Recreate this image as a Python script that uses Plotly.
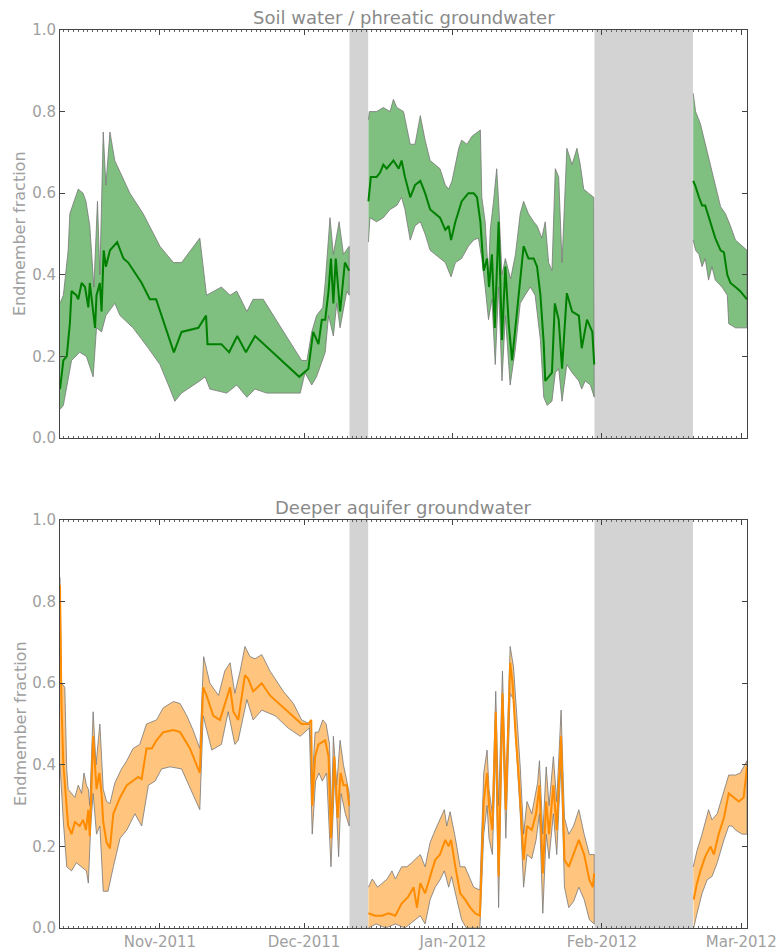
import numpy as np
import pandas as pd
import plotly.graph_objects as go

# ---------------- data (days since BASE_DATE) ----------------
BASE_DATE = "2011-11-01"
X_START, X_END = -20.8, 122.2
NO_DATA = [(39.45, 43.35), (90.45, 110.95)]   # periods without data (grey bands)

panel_titles = ["Soil water / phreatic groundwater", "Deeper aquifer groundwater"]
y_label = "Endmember fraction"

# --- Soil water / phreatic groundwater ---
soil_mean_day = [-20.8, -20.1, -19.4, -18.75, -18.4, -17.4, -17.0, -16.3, -15.6, -14.9,
                 -14.6, -13.5, -13.2, -12.5, -12.15, -11.7, -11.25, -10.4, -8.9, -7.6,
                 -6.6, -3.8, -2.1, -0.8, 2.9, 4.5, 8.0, 9.6, 9.9, 12.8,
                 14.4, 16.1, 17.9, 19.8, 29.0, 30.9, 31.9, 33.0, 33.7, 34.4,
                 35.1, 35.6, 36.1, 36.6, 37.5, 38.5, 39.4,
                 43.4, 43.9, 45.1, 45.8, 46.5, 47.2, 48.6, 49.7, 50.3, 51.0,
                 52.1, 53.1, 54.2, 55.2, 56.25, 57.3, 58.3, 59.4, 60.1, 60.6,
                 61.5, 62.8, 64.2, 65.3, 66.0, 66.7, 67.4, 68.1, 68.5, 69.1,
                 69.7, 70.5, 71.2, 71.9, 72.6, 73.3, 74.3, 75.7, 76.7, 77.8,
                 78.5, 79.2, 79.9, 80.2, 80.9, 81.6, 82.2, 83.0, 83.7, 84.7,
                 85.8, 87.2, 87.8, 88.9, 90.0, 90.4,
                 111.0, 111.5, 112.2, 112.85, 113.5, 114.6, 115.6, 116.7, 117.4, 118.1,
                 118.75, 119.8, 120.8, 122.2]
soil_mean_val = [0.12, 0.19, 0.20, 0.28, 0.36, 0.35, 0.34, 0.38, 0.37, 0.32,
                 0.38, 0.27, 0.35, 0.38, 0.31, 0.46, 0.42, 0.46, 0.48, 0.44,
                 0.43, 0.38, 0.34, 0.34, 0.21, 0.26, 0.27, 0.30, 0.23, 0.23,
                 0.21, 0.25, 0.21, 0.25, 0.15, 0.17, 0.26, 0.23, 0.29, 0.29,
                 0.36, 0.44, 0.33, 0.44, 0.31, 0.43, 0.41,
                 0.58, 0.64, 0.64, 0.65, 0.67, 0.66, 0.68, 0.66, 0.68, 0.64,
                 0.59, 0.62, 0.63, 0.60, 0.56, 0.55, 0.54, 0.51, 0.52, 0.485,
                 0.53, 0.58, 0.60, 0.60, 0.59, 0.53, 0.41, 0.44, 0.37, 0.45,
                 0.27, 0.53, 0.24, 0.42, 0.28, 0.19, 0.31, 0.47, 0.44, 0.44,
                 0.42, 0.35, 0.23, 0.14, 0.15, 0.16, 0.33, 0.29, 0.17, 0.355,
                 0.31, 0.30, 0.22, 0.29, 0.26, 0.18,
                 0.63, 0.616, 0.59, 0.57, 0.57, 0.53, 0.49, 0.46, 0.455, 0.40,
                 0.38, 0.37, 0.36, 0.34]
soil_hi_day = [-20.8, -20.1, -19.1, -18.75, -17.0, -16.0, -15.4, -14.6, -13.75, -13.0,
               -12.5, -11.8, -11.25, -10.4, -9.4, -6.25, -3.5, -1.4, 0.0, 2.8,
               4.5, 8.3, 9.7, 12.8, 14.6, 16.0, 18.1, 19.4, 21.5, 29.5,
               30.6, 31.6, 32.6, 33.9, 34.4, 35.4, 36.1, 37.3, 38.2, 39.4,
               43.4, 43.6, 45.1, 46.5, 47.9, 48.6, 49.3, 50.7, 52.1, 53.1,
               54.2, 55.2, 56.25, 57.3, 58.3, 59.4, 60.1, 60.8, 62.2, 62.8,
               63.9, 65.0, 66.0, 66.7, 67.0, 67.7, 68.4, 68.75, 69.4, 70.1,
               70.5, 71.2, 71.9, 73.0, 74.0, 75.0, 75.7, 76.7, 77.8, 78.5,
               79.5, 80.2, 80.9, 81.6, 82.3, 83.0, 83.7, 84.7, 85.8, 86.8,
               87.5, 88.2, 89.2, 90.3,
               111.0, 111.5, 112.5, 113.5, 114.6, 115.6, 116.7, 117.7, 118.75, 119.8,
               121.2, 122.2]
soil_hi_val = [0.33, 0.35, 0.46, 0.55, 0.61, 0.60, 0.58, 0.52, 0.37, 0.58,
               0.40, 0.75, 0.62, 0.75, 0.68, 0.60, 0.55, 0.50, 0.47, 0.43,
               0.43, 0.49, 0.35, 0.37, 0.35, 0.36, 0.31, 0.34, 0.34, 0.19,
               0.19, 0.26, 0.30, 0.32, 0.38, 0.54, 0.45, 0.53, 0.45, 0.47,
               0.78, 0.80, 0.80, 0.81, 0.80, 0.83, 0.81, 0.80, 0.72, 0.72,
               0.79, 0.73, 0.68, 0.67, 0.66, 0.62, 0.61, 0.63, 0.71, 0.73,
               0.72, 0.74, 0.75, 0.755, 0.59, 0.53, 0.39, 0.51, 0.575, 0.66,
               0.58, 0.40, 0.44, 0.39, 0.45, 0.55, 0.58, 0.55, 0.53, 0.52,
               0.49, 0.53, 0.43, 0.41, 0.66, 0.64, 0.43, 0.71, 0.67, 0.71,
               0.67, 0.61, 0.60, 0.59,
               0.845, 0.80, 0.77, 0.72, 0.67, 0.616, 0.567, 0.55, 0.52, 0.485,
               0.47, 0.46]
soil_lo_day = [-20.8, -20.1, -19.4, -18.4, -16.7, -15.3, -13.9, -13.2, -12.15, -11.25,
               -9.4, -8.3, -5.6, -2.4, 0.0, 2.1, 3.1, 4.5, 8.3, 9.4,
               10.4, 13.9, 16.0, 18.1, 19.8, 22.2, 29.2, 30.2, 31.6, 32.6,
               34.4, 35.1, 36.1, 36.8, 37.5, 38.9, 39.4,
               43.4, 43.7, 45.1, 46.5, 47.9, 49.3, 50.3, 51.0, 52.1, 53.1,
               54.2, 55.2, 56.25, 57.3, 58.3, 59.4, 60.6, 61.5, 62.8, 64.2,
               65.3, 66.3, 67.0, 67.7, 68.4, 69.1, 69.8, 70.5, 71.2, 71.9,
               72.9, 74.0, 75.0, 76.0, 77.1, 78.1, 79.2, 79.9, 80.6, 81.6,
               82.3, 83.0, 83.7, 84.7, 85.8, 87.2, 87.8, 88.5, 89.6, 90.4,
               111.0, 111.5, 112.2, 112.85, 113.5, 114.2, 114.9, 115.6, 117.0, 118.1,
               118.4, 119.8, 122.2]
soil_lo_val = [0.07, 0.08, 0.12, 0.19, 0.21, 0.20, 0.15, 0.27, 0.26, 0.30,
               0.33, 0.30, 0.27, 0.22, 0.18, 0.12, 0.09, 0.11, 0.14, 0.15,
               0.12, 0.11, 0.13, 0.10, 0.12, 0.11, 0.11, 0.16, 0.13, 0.15,
               0.21, 0.30, 0.25, 0.33, 0.27, 0.36, 0.35,
               0.48, 0.54, 0.53, 0.54, 0.56, 0.57, 0.59, 0.56, 0.485, 0.52,
               0.53, 0.50, 0.46, 0.45, 0.44, 0.43, 0.395, 0.43, 0.44, 0.47,
               0.485, 0.49, 0.44, 0.37, 0.29, 0.34, 0.18, 0.37, 0.14, 0.30,
               0.13, 0.22, 0.33, 0.35, 0.37, 0.35, 0.24, 0.10, 0.08, 0.09,
               0.16, 0.17, 0.09, 0.18, 0.16, 0.14, 0.12, 0.14, 0.13, 0.10,
               0.485, 0.46, 0.45, 0.42, 0.44, 0.387, 0.42, 0.387, 0.37, 0.35,
               0.28, 0.27, 0.27]

# --- Deeper aquifer groundwater ---
deep_mean_day = [-20.8, -20.5, -20.1, -19.6, -19.1, -18.4, -17.7, -16.7, -16.0, -15.4,
                 -14.9, -14.6, -13.9, -13.2, -12.6, -12.15, -11.8, -11.1, -10.4, -9.7,
                 -8.3, -6.9, -5.6, -4.5, -3.8, -2.8, -1.7, -0.7, 0.7, 2.8,
                 4.2, 6.25, 8.3, 9.0, 9.7, 11.1, 12.5, 13.5, 14.6, 15.3,
                 16.3, 17.7, 18.4, 19.4, 21.2, 22.9, 25.7, 27.8, 29.5, 30.9,
                 31.5, 31.7, 32.3, 33.0, 34.4, 35.1, 35.6, 36.3, 37.0, 37.6,
                 38.2, 38.9, 39.4,
                 43.4, 44.8, 46.2, 47.6, 49.0, 50.3, 51.7, 52.8, 53.5, 54.2,
                 55.2, 56.25, 57.3, 58.3, 59.4, 60.1, 60.6, 61.5, 62.5, 63.5,
                 64.6, 65.6, 66.6, 67.4, 68.1, 68.5, 69.2, 69.9, 70.5, 71.3,
                 72.0, 72.9, 73.4, 74.0, 74.8, 75.7, 76.4, 77.4, 78.3, 79.0,
                 79.7, 80.4, 81.0, 81.9, 82.6, 83.5, 84.2, 85.1, 86.1, 87.2,
                 88.3, 89.4, 90.1, 90.4,
                 111.1, 111.8, 112.5, 113.5, 114.6, 115.3, 116.3, 117.4, 118.4, 119.4,
                 120.5, 121.5, 122.2]
deep_mean_val = [0.84, 0.55, 0.40, 0.32, 0.25, 0.23, 0.26, 0.25, 0.265, 0.24,
                 0.29, 0.225, 0.47, 0.34, 0.38, 0.33, 0.26, 0.21, 0.195, 0.28,
                 0.32, 0.35, 0.36, 0.37, 0.365, 0.44, 0.44, 0.46, 0.48, 0.485,
                 0.48, 0.44, 0.38, 0.59, 0.57, 0.52, 0.51, 0.55, 0.59, 0.53,
                 0.51, 0.62, 0.61, 0.58, 0.60, 0.57, 0.54, 0.52, 0.50, 0.50,
                 0.51, 0.30, 0.42, 0.45, 0.46, 0.42, 0.22, 0.42, 0.27, 0.38,
                 0.35, 0.35, 0.30,
                 0.036, 0.03, 0.03, 0.036, 0.03, 0.06, 0.077, 0.10, 0.05, 0.11,
                 0.085, 0.126, 0.167, 0.18, 0.216, 0.20, 0.216, 0.15, 0.085, 0.07,
                 0.05, 0.036, 0.03, 0.31, 0.38, 0.30, 0.24, 0.53, 0.126, 0.575,
                 0.29, 0.65, 0.60, 0.48, 0.35, 0.167, 0.25, 0.24, 0.28, 0.35,
                 0.134, 0.31, 0.23, 0.35, 0.24, 0.47, 0.167, 0.15, 0.18, 0.216,
                 0.18, 0.118, 0.10, 0.134,
                 0.07, 0.11, 0.14, 0.175, 0.20, 0.18, 0.23, 0.27, 0.33, 0.32,
                 0.31, 0.32, 0.395]
deep_hi_day = [-20.8, -20.5, -19.8, -19.4, -19.1, -18.4, -17.7, -17.0, -16.3, -15.8,
               -15.3, -14.9, -14.6, -13.9, -13.3, -12.5, -11.8, -11.1, -10.4, -9.4,
               -8.0, -6.9, -5.6, -4.2, -2.8, -0.7, 0.7, 2.8, 4.2, 5.6,
               6.9, 8.3, 9.1, 10.4, 12.2, 13.5, 14.6, 15.6, 16.7, 17.7,
               18.75, 19.8, 21.2, 22.9, 25.7, 27.8, 29.5, 31.2, 31.7, 32.3,
               33.0, 33.9, 34.6, 35.3, 35.7, 36.1, 36.8, 37.5, 38.2, 38.9,
               39.4,
               43.4, 44.2, 45.3, 46.3, 47.3, 48.3, 49.0, 50.3, 51.4, 52.4,
               53.1, 54.2, 55.2, 56.25, 57.3, 58.3, 59.2, 59.7, 60.4, 61.5,
               62.5, 63.5, 64.2, 65.3, 66.6, 67.4, 68.1, 68.5, 69.2, 69.9,
               70.5, 71.3, 72.0, 72.9, 73.6, 74.3, 75.0, 75.7, 76.4, 77.4,
               78.6, 79.0, 79.7, 80.4, 81.0, 81.9, 82.6, 83.5, 84.2, 85.1,
               86.1, 87.2, 88.3, 89.4, 90.4,
               111.0, 111.8, 112.85, 114.2, 114.9, 116.0, 117.0, 118.4, 119.8, 120.8,
               121.5, 122.2]
deep_hi_val = [0.86, 0.60, 0.59, 0.39, 0.34, 0.33, 0.32, 0.35, 0.33, 0.38,
               0.35, 0.34, 0.30, 0.53, 0.40, 0.50, 0.34, 0.31, 0.305, 0.355,
               0.39, 0.41, 0.44, 0.45, 0.50, 0.51, 0.54, 0.555, 0.55, 0.52,
               0.485, 0.44, 0.665, 0.60, 0.57, 0.63, 0.65, 0.575, 0.63, 0.69,
               0.665, 0.66, 0.67, 0.63, 0.58, 0.55, 0.51, 0.50, 0.36, 0.48,
               0.48, 0.51, 0.50, 0.45, 0.27, 0.47, 0.35, 0.46, 0.40, 0.36,
               0.33,
               0.10, 0.12, 0.10, 0.11, 0.12, 0.14, 0.12, 0.15, 0.15, 0.16,
               0.167, 0.18, 0.15, 0.21, 0.24, 0.265, 0.29, 0.25, 0.285, 0.22,
               0.15, 0.15, 0.13, 0.10, 0.093, 0.38, 0.436, 0.34, 0.28, 0.58,
               0.30, 0.63, 0.34, 0.69, 0.64, 0.52, 0.395, 0.23, 0.31, 0.28,
               0.355, 0.41, 0.23, 0.395, 0.30, 0.42, 0.31, 0.534, 0.27, 0.23,
               0.25, 0.29, 0.23, 0.18, 0.18,
               0.15, 0.19, 0.23, 0.29, 0.265, 0.28, 0.32, 0.375, 0.375, 0.38,
               0.395, 0.41]
deep_lo_day = [-20.8, -20.1, -19.4, -18.4, -17.4, -16.3, -15.3, -14.9, -14.4, -13.9,
               -13.2, -12.5, -11.8, -10.8, -9.7, -8.3, -6.9, -5.2, -3.8, -2.4,
               -1.0, 0.35, 2.1, 4.5, 5.9, 8.3, 9.0, 10.8, 12.8, 14.2,
               15.6, 16.3, 18.1, 19.4, 21.2, 24.0, 26.7, 29.2, 31.1, 31.7,
               32.4, 33.1, 33.8, 34.7, 35.6, 36.4, 37.2, 37.7, 38.6, 39.4,
               43.4, 45.0, 47.0, 49.0, 51.0, 53.1, 54.2, 55.2, 56.25, 57.3,
               58.3, 59.2, 60.1, 60.7, 61.8, 62.8, 63.8, 66.6, 67.4, 68.1,
               68.5, 69.2, 69.9, 70.5, 71.3, 72.0, 72.9, 73.6, 74.3, 75.0,
               75.7, 76.4, 77.4, 78.3, 79.0, 79.7, 80.4, 81.0, 81.9, 82.6,
               83.5, 84.2, 85.1, 86.1, 87.2, 88.3, 89.4, 90.4,
               111.1, 111.8, 112.85, 113.9, 114.9, 116.0, 117.4, 118.4, 119.1, 119.8,
               121.2, 122.2]
deep_lo_val = [0.40, 0.26, 0.15, 0.14, 0.16, 0.15, 0.14, 0.11, 0.25, 0.33,
               0.23, 0.25, 0.09, 0.09, 0.15, 0.22, 0.24, 0.28, 0.25, 0.35,
               0.36, 0.39, 0.395, 0.39, 0.355, 0.29, 0.52, 0.436, 0.45, 0.53,
               0.45, 0.46, 0.56, 0.51, 0.534, 0.52, 0.49, 0.47, 0.49, 0.23,
               0.36, 0.38, 0.36, 0.38, 0.15, 0.38, 0.175, 0.33, 0.28, 0.25,
               0.0, 0.01, 0.0, 0.01, 0.0, 0.02, 0.03, 0.01, 0.07, 0.10,
               0.118, 0.14, 0.10, 0.126, 0.07, 0.02, 0.0, 0.0, 0.23, 0.30,
               0.22, 0.18, 0.44, 0.05, 0.52, 0.22, 0.575, 0.56, 0.43, 0.28,
               0.10, 0.18, 0.17, 0.216, 0.28, 0.036, 0.23, 0.17, 0.28, 0.18,
               0.41, 0.10, 0.05, 0.065, 0.10, 0.07, 0.02, 0.01,
               0.0, 0.036, 0.085, 0.118, 0.126, 0.16, 0.216, 0.25, 0.25, 0.24,
               0.23, 0.23]

# ---------------- helpers ----------------
def to_dates(days):
    return list(pd.Timestamp(BASE_DATE) + pd.to_timedelta(np.asarray(days, float), unit="D"))


def split(days, vals):
    assert len(days) == len(vals)
    segs = [([], []) for _ in range(len(NO_DATA) + 1)]
    for d, v in zip(days, vals):
        k = sum(d > g[0] for g in NO_DATA)
        segs[k][0].append(d)
        segs[k][1].append(v)
    return segs


fig = go.Figure()

panels = [
    dict(mean=(soil_mean_day, soil_mean_val), hi=(soil_hi_day, soil_hi_val),
         lo=(soil_lo_day, soil_lo_val), line="#008000", fill="rgba(0,128,0,0.5)",
         xa="x", ya="y"),
    dict(mean=(deep_mean_day, deep_mean_val), hi=(deep_hi_day, deep_hi_val),
         lo=(deep_lo_day, deep_lo_val), line="#ff8c00", fill="rgba(255,140,0,0.5)",
         xa="x2", ya="y2"),
]

for p in panels:
    hs = split(*p["hi"])
    ls = split(*p["lo"])
    ms = split(*p["mean"])
    for (hd, hv), (ld, lv) in zip(hs, ls):
        xs = hd + ld[::-1]
        ys = hv + lv[::-1]
        fig.add_trace(go.Scatter(x=to_dates(xs), y=ys, mode="lines", fill="toself",
                                 fillcolor=p["fill"],
                                 line=dict(color="rgba(120,120,120,0.8)", width=1),
                                 xaxis=p["xa"], yaxis=p["ya"], showlegend=False,
                                 hoverinfo="skip"))
    for md, mv in ms:
        fig.add_trace(go.Scatter(x=to_dates(md), y=mv, mode="lines",
                                 line=dict(color=p["line"], width=2),
                                 xaxis=p["xa"], yaxis=p["ya"], showlegend=False))

W, H = 778, 952
ML, MR, MT, MB = 60, 31, 30, 24
PH = H - MT - MB
gap_px = 82
panel_h = (PH - gap_px) / 2
top_dom = [1 - panel_h / PH, 1]
bot_dom = [0, panel_h / PH]

tick_font = dict(family="DejaVu Sans", size=15, color="#a0a0a0")
frame = "#444444"
x_range = to_dates([X_START, X_END])

common_x = dict(type="date", range=x_range, showgrid=False, zeroline=False,
                showline=True, linecolor=frame, linewidth=1, mirror="ticks",
                ticks="inside", ticklen=5, tickcolor=frame, tickwidth=1,
                dtick="M1", tick0="2011-11-01", tickformat="%b-%Y",
                tickfont=tick_font, automargin=False,
                minor=dict(ticks="inside", ticklen=2, dtick=86400000.0,
                           tick0="2011-11-01", tickcolor="#666666", showgrid=False))
common_y = dict(range=[0, 1], showgrid=False, zeroline=False, showline=True,
                linecolor=frame, linewidth=1, mirror="ticks", ticks="inside",
                ticklen=5, tickcolor=frame, dtick=0.2, tick0=0, tickformat=".1f",
                tickfont=tick_font, automargin=False)

fig.update_layout(
    width=W, height=H,
    margin=dict(l=ML, r=MR, t=MT, b=MB, autoexpand=False),
    paper_bgcolor="white", plot_bgcolor="white",
    xaxis=dict(common_x, domain=[0, 1], anchor="y", showticklabels=False, matches="x2"),
    yaxis=dict(common_y, domain=top_dom, anchor="x"),
    xaxis2=dict(common_x, domain=[0, 1], anchor="y2"),
    yaxis2=dict(common_y, domain=bot_dom, anchor="x2"),
)

shapes = []
for yref in ["y domain", "y2 domain"]:
    xref = "x" if yref.startswith("y ") else "x2"
    for g0, g1 in NO_DATA:
        d0, d1 = to_dates([g0, g1])
        shapes.append(dict(type="rect", xref=xref, yref=yref, x0=d0, x1=d1, y0=0, y1=1,
                           fillcolor="#d3d3d3", line=dict(width=0), layer="below"))
fig.update_layout(shapes=shapes)

title_font = dict(family="DejaVu Sans", size=18, color="#8a8a8a")
label_font = dict(family="DejaVu Sans", size=16, color="#a0a0a0")
annotations = []
for title, dom in zip(panel_titles, [top_dom, bot_dom]):
    annotations.append(dict(text=title, xref="paper", yref="paper", x=0.5, y=dom[1],
                            yshift=13, xanchor="center", yanchor="middle",
                            showarrow=False, font=title_font))
    annotations.append(dict(text=y_label, xref="paper", yref="paper",
                            x=-40 / (W - ML - MR), y=(dom[0] + dom[1]) / 2,
                            xanchor="center", yanchor="middle", textangle=-90,
                            showarrow=False, font=label_font))
fig.update_layout(annotations=annotations)

fig.write_html("out.html")
